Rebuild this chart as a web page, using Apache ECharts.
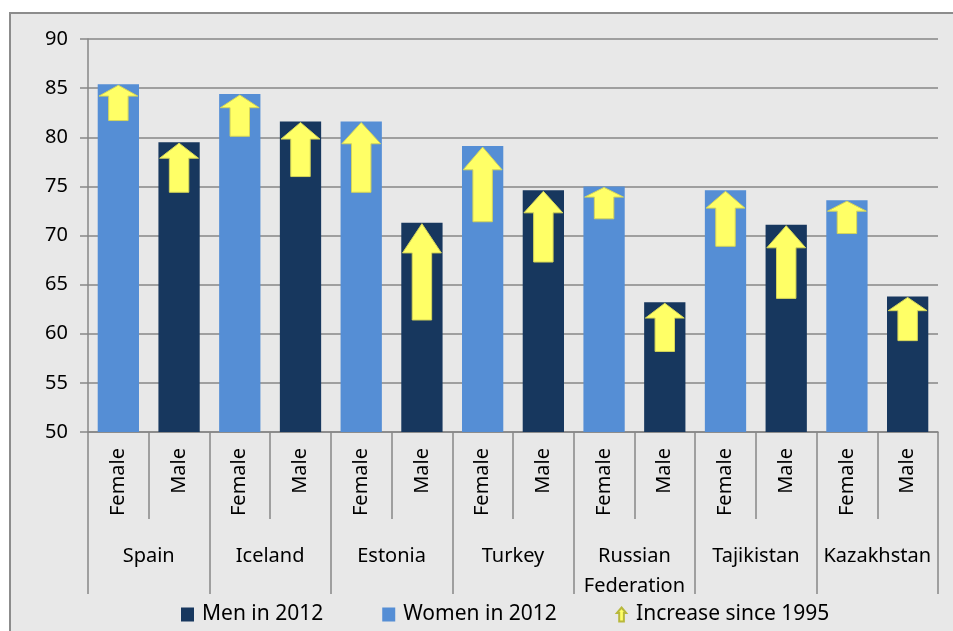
<!DOCTYPE html>
<html>
<head>
<meta charset="utf-8">
<script src="https://cdn.jsdelivr.net/npm/echarts@6/dist/echarts.min.js"></script>
<style>
  html, body { margin: 0; padding: 0; background: #fff; }
  #chart { width: 953px; height: 631px; }
</style>
</head>
<body>
<div id="chart"></div>
<script>
// life expectancy, 2012 bars with the rise since 1995 drawn as arrows
const countries = ['Spain', 'Iceland', 'Estonia', 'Turkey', 'Russian\nFederation', 'Tajikistan', 'Kazakhstan']
const sexes = ['Female', 'Male']
const female2012 = [85.4, 84.4, 81.6, 79.1, 75.0, 74.6, 73.6]
const male2012 = [79.5, 81.6, 71.3, 74.6, 63.2, 71.1, 63.8]
const female1995 = [81.7, 80.1, 74.4, 71.4, 71.7, 68.9, 70.2]
const male1995 = [74.4, 76.0, 61.4, 67.3, 58.2, 63.6, 59.3]
const yTicks = { min: 50, max: 90, step: 5 }

const font = '"Noto Sans", sans-serif'
const grey = '#878787'

// one category per country/sex pair
const subLabels = []
const womenData = []
const menData = []
const arrowData = []
countries.forEach((c, i) => {
  subLabels.push(sexes[0], sexes[1])
  womenData.push(female2012[i], '-')
  menData.push('-', male2012[i])
  arrowData.push([i * 2, female1995[i], female2012[i]])
  arrowData.push([i * 2 + 1, male1995[i], male2012[i]])
})

function renderArrow(params, api) {
  const idx = api.value(0)
  const top = api.coord([idx, api.value(2)])
  const bot = api.coord([idx, api.value(1)])
  const w = api.size([1, 0])[0] * 0.64
  const sw = w * 0.5
  const head = (bot[1] - top[1]) * 0.3
  const x = top[0]
  const y = top[1] + 1
  return {
    type: 'polygon',
    shape: {
      points: [
        [x, y], [x + w / 2, y + head], [x + sw / 2, y + head],
        [x + sw / 2, bot[1]], [x - sw / 2, bot[1]],
        [x - sw / 2, y + head], [x - w / 2, y + head]
      ]
    },
    style: { fill: '#FFFF66', stroke: '#D4D45A', lineWidth: 1 }
  }
}

const chart = echarts.init(document.getElementById('chart'))
chart.setOption({
  animation: false,
  textStyle: { fontFamily: font },
  graphic: [{
    type: 'rect', z: -100, silent: true,
    shape: { x: 10, y: 13, width: 1000, height: 700 },
    style: { fill: '#E8E8E8', stroke: '#8C8C8C', lineWidth: 2 }
  }],
  grid: { left: 88, right: 15, top: 39, bottom: 199 },
  legend: {
    left: 176, top: 599,
    itemWidth: 13, itemHeight: 14, itemGap: 59,
    textStyle: { fontFamily: font, fontSize: 21, color: '#000', padding: [0, 0, 0, 3] },
    data: [
      { name: 'Men in 2012', icon: 'rect' },
      { name: 'Women in 2012', icon: 'rect' },
      { name: 'Increase since 1995', icon: 'path://M5,0 L10,6 L7.5,6 L7.5,15 L2.5,15 L2.5,6 L0,6 Z' }
    ]
  },
  xAxis: [{
    type: 'category', data: subLabels, offset: 0,
    axisLine: { show: true, lineStyle: { color: grey, width: 1.5 } },
    axisTick: { show: true, interval: 0, length: 87, lineStyle: { color: grey, width: 1.5 } },
    axisLabel: { interval: 0, rotate: 90, margin: 16, fontSize: 20, color: '#000', fontFamily: font }
  }, {
    type: 'category', data: countries, position: 'bottom', offset: 0,
    axisLine: { show: false },
    axisTick: { show: true, interval: 0, length: 162, lineStyle: { color: grey, width: 1.5 } },
    axisLabel: { interval: 0, margin: 109, fontSize: 20, lineHeight: 30, color: '#000', fontFamily: font }
  }],
  yAxis: {
    type: 'value', min: yTicks.min, max: yTicks.max, interval: yTicks.step,
    axisLine: { show: true, lineStyle: { color: grey, width: 1.5 } },
    axisTick: { show: true, length: 8, lineStyle: { color: grey, width: 1.5 } },
    axisLabel: { margin: 20, fontSize: 20, color: '#000', fontFamily: font },
    splitLine: { lineStyle: { color: grey, width: 1.5 } }
  },
  series: [{
    name: 'Women in 2012', type: 'bar', data: womenData,
    barWidth: '68%', barGap: '-100%',
    itemStyle: { color: '#558ED5' }
  }, {
    name: 'Men in 2012', type: 'bar', data: menData,
    barWidth: '68%', barGap: '-100%',
    itemStyle: { color: '#17375E' }
  }, {
    name: 'Increase since 1995', type: 'custom', data: arrowData,
    renderItem: renderArrow, z: 5,
    itemStyle: { color: '#FFFF66', borderColor: '#B8B83C', borderWidth: 1 },
    encode: { x: 0, y: [1, 2] }
  }]
})
</script>
</body>
</html>
